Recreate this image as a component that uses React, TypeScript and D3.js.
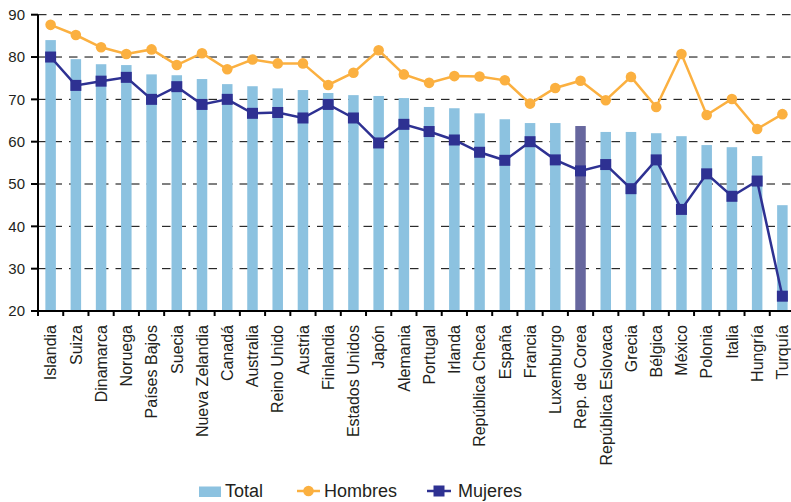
import React from 'react';
import * as d3 from 'd3';

const countries = [
  'Islandia', 'Suiza', 'Dinamarca', 'Noruega', 'Países Bajos', 'Suecia', 'Nueva Zelandia',
  'Canadá', 'Australia', 'Reino Unido', 'Austria', 'Finlandia', 'Estados Unidos', 'Japón',
  'Alemania', 'Portugal', 'Irlanda', 'República Checa', 'España', 'Francia', 'Luxemburgo',
  'Rep. de Corea', 'República Eslovaca', 'Grecia', 'Bélgica', 'México', 'Polonia', 'Italia',
  'Hungría', 'Turquía',
];

const total = [
  84.0, 79.5, 78.3, 78.1, 75.9, 75.7, 74.8, 73.6, 73.1, 72.6, 72.2, 71.5, 71.0, 70.8,
  70.3, 68.2, 67.9, 66.7, 65.3, 64.4, 64.4, 63.7, 62.3, 62.3, 62.0, 61.3, 59.2, 58.7,
  56.6, 45.0,
];

const hombres = [
  87.6, 85.2, 82.3, 80.7, 81.8, 78.1, 80.9, 77.1, 79.4, 78.5, 78.5, 73.4, 76.3, 81.6,
  75.9, 73.9, 75.5, 75.4, 74.5, 69.0, 72.7, 74.4, 69.8, 75.3, 68.2, 80.7, 66.3, 70.1,
  63.0, 66.5,
];

const mujeres = [
  80.0, 73.3, 74.3, 75.2, 70.0, 73.0, 68.8, 70.0, 66.7, 66.9, 65.6, 68.8, 65.6, 59.7,
  64.1, 62.4, 60.4, 57.5, 55.6, 60.0, 55.7, 53.1, 54.6, 48.9, 55.7, 44.0, 52.4, 47.1,
  50.7, 23.5,
];

const yTicks = [20, 30, 40, 50, 60, 70, 80, 90];
const highlight = 'Rep. de Corea';

const W = 791;
const H = 502;
const font = '"Liberation Sans", Arial, Helvetica, sans-serif';

export default function App() {
  const left = 38;
  const right = 795;
  const top = 14.7;
  const bottom = 311;

  const x = d3.scaleBand<string>().domain(countries).range([left, right]).padding(0);
  const y = d3.scaleLinear().domain([20, 90]).range([bottom, top]);
  const bw = x.bandwidth();
  const cx = (c: string) => (x(c) as number) + bw / 2;

  const line = d3.line<number>()
    .x((_, i) => cx(countries[i]))
    .y(d => y(d));

  const barW = 10.5;
  const sq = 11;

  return (
    <svg width={W} height={H} style={{ position: 'absolute', left: 0, top: 0 }} fontFamily={font}>
      <rect width={W} height={H} fill="#fff" />

      {/* grid */}
      {yTicks.filter(t => t > 20).map(t => (
        <line key={t} x1={left} x2={W} y1={y(t)} y2={y(t)}
              stroke="#000" strokeWidth={1} strokeDasharray="8.5,7" />
      ))}

      {/* bars */}
      {countries.map((c, i) => (
        <rect key={c} x={cx(c) - barW / 2} y={y(total[i])} width={barW}
              height={bottom - y(total[i])}
              fill={c === highlight ? '#67679e' : '#8cc2e0'} />
      ))}

      {/* Hombres */}
      <path d={line(hombres) || ''} fill="none" stroke="#fbb040" strokeWidth={2.5} />
      {hombres.map((v, i) => (
        <circle key={i} cx={cx(countries[i])} cy={y(v)} r={5.3} fill="#fbb040" />
      ))}

      {/* Mujeres */}
      <path d={line(mujeres) || ''} fill="none" stroke="#2e3192" strokeWidth={2.5} />
      {mujeres.map((v, i) => (
        <rect key={i} x={cx(countries[i]) - sq / 2} y={y(v) - sq / 2} width={sq} height={sq}
              fill="#2e3192" />
      ))}

      {/* axes */}
      <line x1={left} x2={left} y1={top} y2={bottom + 1} stroke="#000" strokeWidth={2} />
      <line x1={left - 1} x2={W} y1={bottom} y2={bottom} stroke="#000" strokeWidth={2} />
      {yTicks.map(t => (
        <g key={t}>
          <line x1={left - 7} x2={left} y1={y(t)} y2={y(t)} stroke="#000" strokeWidth={2} />
          <text x={25} y={y(t)} dy="0.35em" textAnchor="end" fontSize={15} fill="#231f20">{t}</text>
        </g>
      ))}
      {d3.range(countries.length + 1).map(i => (
        <line key={i} x1={left + i * bw} x2={left + i * bw} y1={bottom} y2={bottom + 5}
              stroke="#000" strokeWidth={2} />
      ))}
      {countries.map(c => (
        <text key={c} transform={`translate(${cx(c)},${325}) rotate(-90)`} dy="0.36em"
              textAnchor="end" fontSize={16} fill="#231f20">{c}</text>
      ))}

      {/* legend */}
      <rect x={199} y={486.5} width={22} height={10.5} fill="#8cc2e0" />
      <text x={225} y={497} fontSize={18} fill="#231f20">Total</text>
      <line x1={297} x2={320} y1={491} y2={491} stroke="#fbb040" strokeWidth={2.5} />
      <circle cx={308.5} cy={491} r={5.3} fill="#fbb040" />
      <text x={324} y={497} fontSize={18} fill="#231f20">Hombres</text>
      <line x1={427} x2={451} y1={491} y2={491} stroke="#2e3192" strokeWidth={2.5} />
      <rect x={439 - sq / 2} y={491 - sq / 2} width={sq} height={sq} fill="#2e3192" />
      <text x={458} y={497} fontSize={18} fill="#231f20">Mujeres</text>
    </svg>
  );
}
